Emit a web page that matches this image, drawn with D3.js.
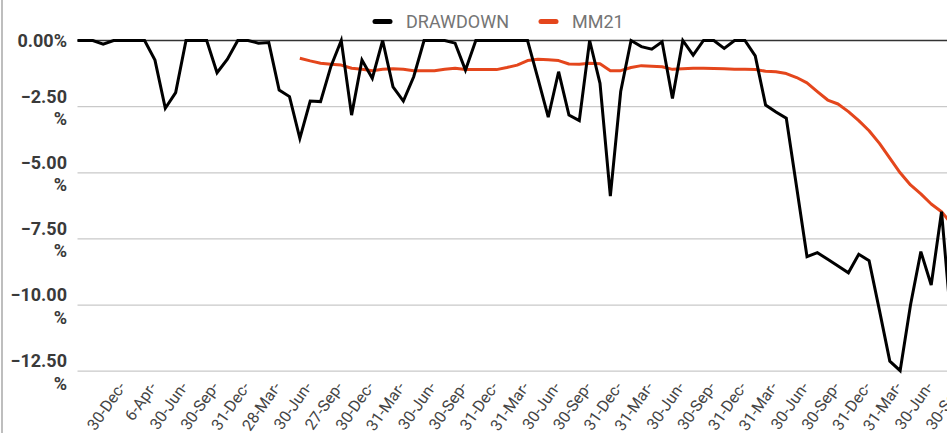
<!DOCTYPE html>
<html>
<head>
<meta charset="utf-8">
<script src="https://cdn.jsdelivr.net/npm/d3@7/dist/d3.min.js"></script>
<style>
  html, body { margin: 0; padding: 0; background: #fff; overflow: hidden; }
  svg { display: block; font-family: Roboto, "Noto Sans", Arial, sans-serif; }
</style>
</head>
<body>
<svg id="chart" width="947" height="433"></svg>
<script>
// Monthly drawdown (%) from index -1 to 84
const drawdown = [
  0, 0, 0, -0.14, 0, 0, 0, 0, -0.74, -2.56,
  -1.97, 0, 0, 0, -1.22, -0.71, 0, 0, -0.10, -0.08,
  -1.87, -2.12, -3.70, -2.29, -2.31, -0.98, 0, -2.82, -0.74, -1.43,
  0, -1.75, -2.29, -1.37, 0, 0, 0, -0.10, -1.12, 0,
  0, 0, 0, 0, 0, -1.43, -2.90, -1.18, -2.82, -3.03,
  0, -1.62, -5.88, -1.93, 0, -0.23, -0.33, -0.05, -2.19, 0,
  -0.55, 0, 0, -0.30, 0, 0, -0.58, -2.44, -2.70, -2.94,
  -5.55, -8.17, -8.02, -8.27, -8.52, -8.78, -8.08, -8.32, -10.20, -12.12,
  -12.48, -10.00, -7.98, -9.24, -6.47, -11.00
];

// 21-month moving average (%), same indices; null before it starts
const mm21 = [
  null, null, null, null, null, null, null, null, null, null,
  null, null, null, null, null, null, null, null, null, null,
  null, null, -0.67, -0.77, -0.86, -0.90, -0.93, -1.05, -1.09, -1.14,
  -1.09, -1.07, -1.09, -1.14, -1.14, -1.14, -1.09, -1.05, -1.10, -1.10,
  -1.10, -1.10, -1.02, -0.93, -0.76, -0.71, -0.73, -0.76, -0.89, -0.90,
  -0.86, -0.88, -1.14, -1.14, -1.02, -0.95, -0.97, -0.99, -1.09, -1.07,
  -1.05, -1.05, -1.06, -1.07, -1.09, -1.09, -1.10, -1.16, -1.18, -1.25,
  -1.40, -1.60, -1.93, -2.25, -2.40, -2.69, -3.03, -3.41, -3.89, -4.45,
  -5.00, -5.46, -5.80, -6.18, -6.47, -6.95
];
const firstIndex = -1;

// Quarterly category labels, one every third month starting at index 4
const xTickLabels = [
  "30-Dec-", "6-Apr-", "30-Jun-", "30-Sep-", "31-Dec-", "28-Mar-", "30-Jun-",
  "27-Sep-", "30-Dec-", "31-Mar-", "30-Jun-", "30-Sep-", "31-Dec-", "31-Mar-",
  "30-Jun-", "30-Sep-", "31-Dec-", "31-Mar-", "30-Jun-", "30-Sep-", "31-Dec-",
  "31-Mar-", "30-Jun-", "30-Sep-", "31-Dec-", "31-Mar-", "30-Jun-", "30-Sep-"
];
const xTickStart = 4, xTickStep = 3;

const yTicks = [0, -2.5, -5, -7.5, -10, -12.5];

const seriesNames = ["DRAWDOWN", "MM21"];
const seriesColors = ["#000000", "#e4461c"];

const W = 947, H = 433;
const plotLeft = 77.5, plotRight = W;
const svg = d3.select("#chart");

const x = d3.scaleLinear().domain([-1, 85]).range([72.15, 962.25]);
const y = d3.scaleLinear().domain([0, -12.5]).range([40.5, 371.2]);

// outer frame edge on the left
svg.append("line")
  .attr("x1", 2).attr("x2", 2).attr("y1", 0).attr("y2", H)
  .attr("stroke", "#a8a8a8").attr("stroke-width", 1.5);

// horizontal gridlines
svg.append("g").selectAll("line")
  .data(yTicks)
  .join("line")
  .attr("x1", plotLeft).attr("x2", plotRight)
  .attr("y1", d => y(d)).attr("y2", d => y(d))
  .attr("stroke", d => d === 0 ? "#333" : "#c9c9c9")
  .attr("stroke-width", 1.3);

// y tick labels, wrapped to two lines when they are too wide
const yLabel = d3.format(".2f");
const yl = svg.append("g")
  .attr("font-size", 18).attr("font-weight", "bold")
  .attr("fill", "#3a3a3a").attr("text-anchor", "end");
yTicks.forEach(v => {
  const t = yl.append("text").attr("x", 67);
  if (v === 0) {
    t.attr("y", y(v) + 6.5).text(yLabel(v) + "%");
  } else {
    t.append("tspan").attr("x", 67).attr("y", y(v) - 4).text(yLabel(v));
    t.append("tspan").attr("x", 67).attr("y", y(v) + 18.5).text("%");
  }
});

// clip region for the plotted series
svg.append("clipPath").attr("id", "plotClip")
  .append("rect").attr("x", plotLeft).attr("y", 0)
  .attr("width", plotRight - plotLeft).attr("height", H);

const idx = d3.range(drawdown.length).map(k => k + firstIndex);
const line = d3.line()
  .defined(d => d.v !== null && d.v !== undefined)
  .x(d => x(d.i)).y(d => y(d.v));

const plot = svg.append("g").attr("clip-path", "url(#plotClip)");
plot.append("path")
  .datum(idx.map((i, k) => ({ i, v: mm21[k] })))
  .attr("d", line)
  .attr("fill", "none").attr("stroke", seriesColors[1])
  .attr("stroke-width", 3).attr("stroke-linejoin", "round");
plot.append("path")
  .datum(idx.map((i, k) => ({ i, v: drawdown[k] })))
  .attr("d", line)
  .attr("fill", "none").attr("stroke", seriesColors[0])
  .attr("stroke-width", 3).attr("stroke-linejoin", "miter");

// x axis: slanted quarterly labels
const xAxis = d3.axisBottom(x)
  .tickValues(xTickLabels.map((_, k) => xTickStart + k * xTickStep))
  .tickSize(0)
  .tickFormat((d, k) => xTickLabels[k]);
const gx = svg.append("g").attr("transform", "translate(0,387)").call(xAxis);
gx.select(".domain").remove();
gx.selectAll("text")
  .attr("font-family", "Roboto, sans-serif")
  .attr("font-size", 16)
  .attr("fill", "#444")
  .attr("text-anchor", "end")
  .attr("x", 0).attr("y", 0).attr("dy", 0)
  .attr("transform", "translate(2,0) rotate(-55)");

// legend
const legend = svg.append("g").attr("font-size", 18).attr("fill", "#757575");
const legendItems = [
  { name: seriesNames[0], color: seriesColors[0], x0: 373, tx: 406 },
  { name: seriesNames[1], color: seriesColors[1], x0: 539, tx: 572 }
];
legendItems.forEach(it => {
  legend.append("line")
    .attr("x1", it.x0 + 2).attr("x2", it.x0 + 17)
    .attr("y1", 21.5).attr("y2", 21.5)
    .attr("stroke", it.color).attr("stroke-width", 5)
    .attr("stroke-linecap", "round");
  legend.append("text").attr("x", it.tx).attr("y", 28).text(it.name);
});
</script>
</body>
</html>
